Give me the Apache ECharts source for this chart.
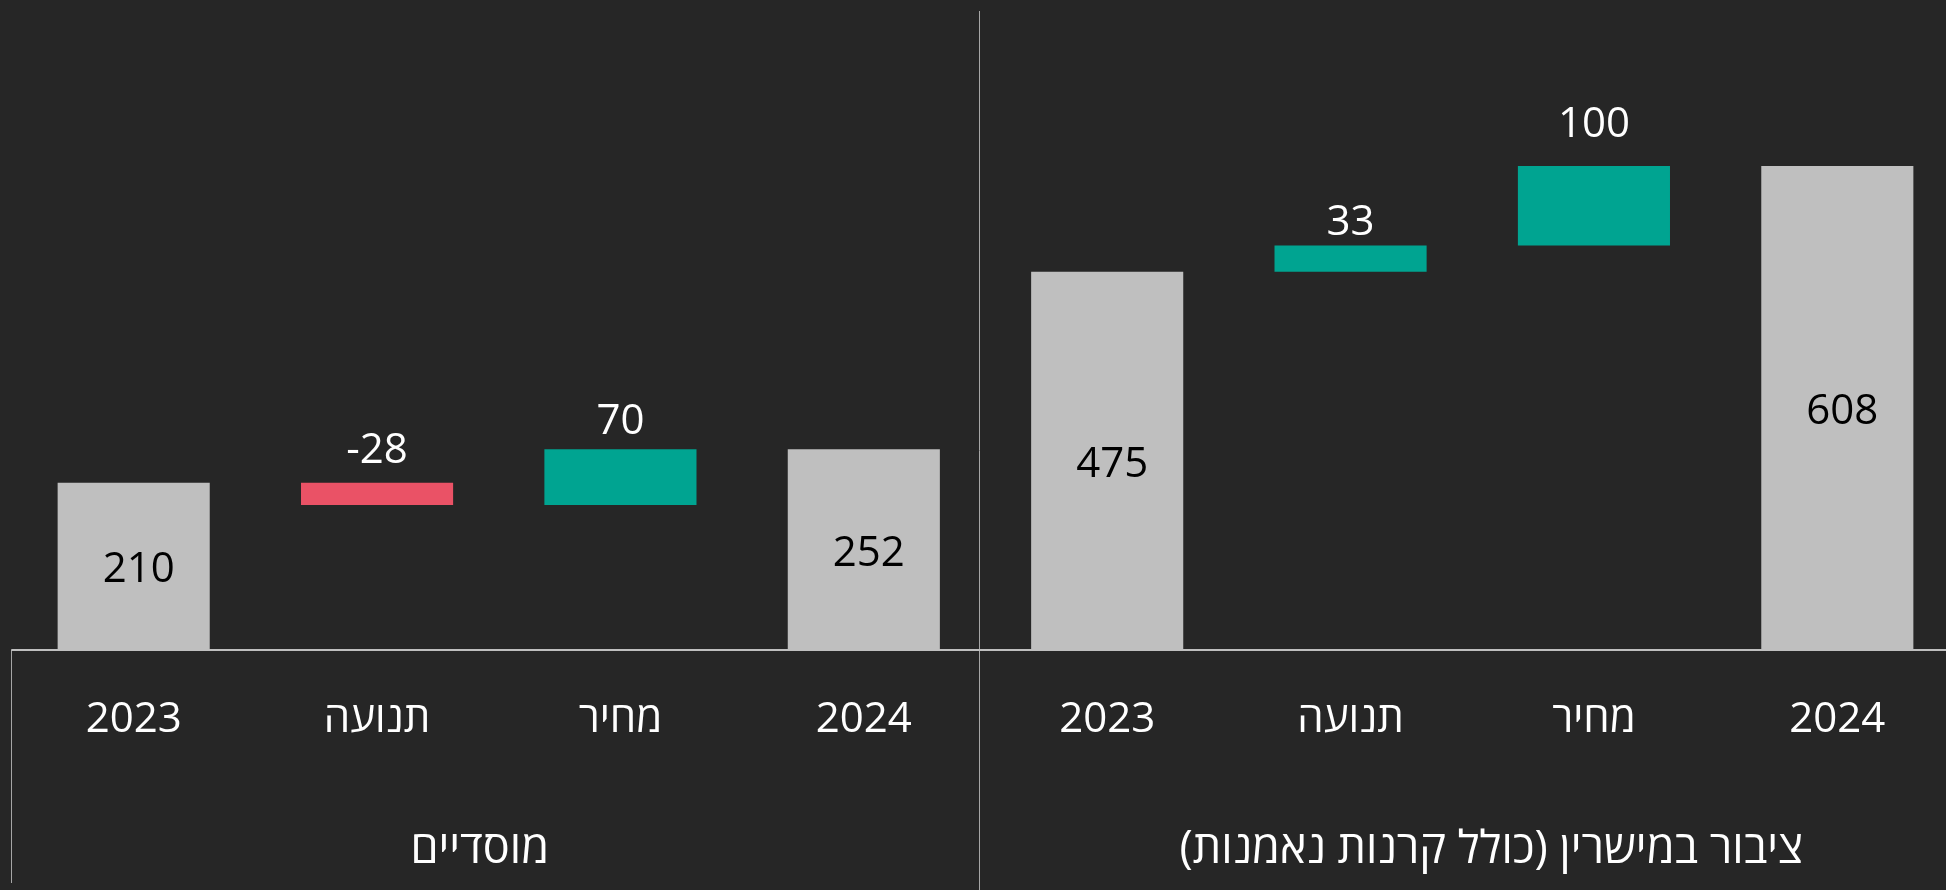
<!DOCTYPE html>
<html>
<head>
<meta charset="utf-8">
<title>waterfall</title>
<script src="https://cdn.jsdelivr.net/npm/echarts@6/dist/echarts.min.js"></script>
<style>
  html, body { margin: 0; padding: 0; background: #262626; }
  #chart { width: 1946px; height: 890px; }
</style>
</head>
<body>
<div id="chart"></div>
<script>
// ערכים מהגרף
const categories = ['2023', 'תנועה', 'מחיר', '2024'];
const groups = ['מוסדיים', 'ציבור במישרין (כולל קרנות נאמנות)'];
const institutional = [210, -28, 70, 252];
const publicDirect = [475, 33, 100, 608];

// מרווח תווית מעל עמודות השינוי (כמו במקור, לא אחיד)
const labelGap = [[0, 11, 6, 0], [0, 1, 20, 0]];

const FONT = "'Open Sans', 'Liberation Sans', 'DejaVu Sans', sans-serif";
const GRAY = '#bfbfbf';
const UP = '#00a491';
const DOWN = '#ea5266';

// בונה את הבסיס השקוף ואת העמודה הנראית לכל קבוצה
function waterfall(values, gaps) {
  let running = 0;
  const base = [];
  const bars = [];
  values.forEach((v, i) => {
    const total = i === 0 || i === values.length - 1;
    if (total) {
      running = v;
      base.push(0);
      bars.push({
        value: v,
        itemStyle: { color: GRAY },
        label: { show: true, position: 'inside', color: '#000', offset: [5, 4] }
      });
    } else {
      const from = v < 0 ? running + v : running;
      running += v;
      base.push(from);
      bars.push({
        value: Math.abs(v),
        raw: v,
        itemStyle: { color: v < 0 ? DOWN : UP },
        label: { show: true, position: 'top', color: '#fff', distance: gaps[i] }
      });
    }
  });
  return { base, bars };
}

const left = waterfall(institutional, labelGap[0]);
const right = waterfall(publicDirect, labelGap[1]);
const xData = categories.concat(categories);
const baseData = left.base.concat(right.base);
const barData = left.bars.concat(right.bars);

const chart = echarts.init(document.getElementById('chart'));
chart.setOption({
  backgroundColor: '#262626',
  animation: false,
  textStyle: { fontFamily: FONT },
  grid: { left: 12, top: 13, right: -13, bottom: 240, containLabel: false, outerBoundsMode: 'none' },
  xAxis: [
    {
      type: 'category',
      data: xData,
      axisLine: { lineStyle: { color: GRAY, width: 2 } },
      axisTick: { show: false },
      axisLabel: { color: '#fff', fontSize: 42, margin: 49, fontFamily: FONT }
    },
    {
      type: 'category',
      position: 'bottom',
      data: groups.map((g, i) => ({
        value: g,
        textStyle: { padding: i === 0 ? [0, 38, 0, 0] : [0, 0, 0, 38] }
      })),
      axisLine: { show: false },
      axisTick: { show: false },
      axisLabel: {
        color: '#fff',
        fontSize: 45,
        margin: 178,
        fontFamily: FONT,
        // סימן RLM כדי שהסוגריים יוצגו מימין לשמאל
        formatter: v => v + '\u200F'
      }
    }
  ],
  yAxis: { type: 'value', min: 0, max: 800, show: false, splitLine: { show: false } },
  series: [
    {
      name: 'base',
      type: 'bar',
      stack: 'wf',
      data: baseData,
      itemStyle: { color: 'transparent' },
      barCategoryGap: '37.5%',
      silent: true
    },
    {
      name: 'value',
      type: 'bar',
      stack: 'wf',
      data: barData,
      barCategoryGap: '37.5%',
      label: {
        fontSize: 42,
        fontFamily: FONT,
        formatter: p => String(p.data.raw !== undefined ? p.data.raw : p.value)
      }
    }
  ],
  graphic: [
    { type: 'line', shape: { x1: 11.5, y1: 650, x2: 11.5, y2: 883 }, style: { stroke: '#a6a6a6', lineWidth: 1 } },
    { type: 'line', shape: { x1: 979.5, y1: 11, x2: 979.5, y2: 890 }, style: { stroke: '#a6a6a6', lineWidth: 1 } }
  ]
});
</script>
</body>
</html>
